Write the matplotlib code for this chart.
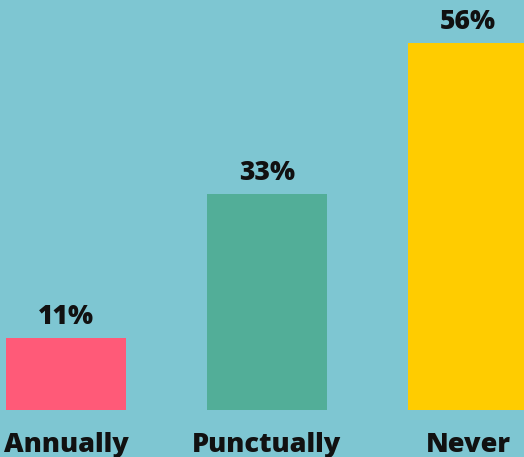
import matplotlib.pyplot as plt

# frequency categories and their shares (%)
categories = ['Annually', 'Punctually', 'Never']
values = [11, 33, 56]
colors = ['#FF5A78', '#52AE98', '#FFCC00']

bg = '#7EC6D2'
plt.rcParams['font.family'] = ['Open Sans', 'DejaVu Sans']

fig = plt.figure(figsize=(5.24, 4.57), dpi=100, facecolor=bg)
ax = fig.add_axes([0, 0, 1, 1])
ax.set_facecolor(bg)

x = list(range(len(categories)))
ax.bar(x, values, width=0.597, color=colors)

for xi, v in zip(x, values):
    ax.annotate(f'{v}%', (xi, v), xytext=(0, 6), textcoords='offset points',
                ha='center', va='bottom', fontsize=19, fontweight='heavy',
                color='#111111')

for xi, name in zip(x, categories):
    ax.annotate(name, (xi, 0), xytext=(0, -25), textcoords='offset points',
                ha='center', va='center', fontsize=19.5, fontweight='heavy',
                color='#111111')

ax.set_xlim(-0.328, 2.279)
ax.set_ylim(-47 / 6.55, 410 / 6.55)
ax.axis('off')

fig.savefig('out.png', dpi=100, facecolor=bg)
